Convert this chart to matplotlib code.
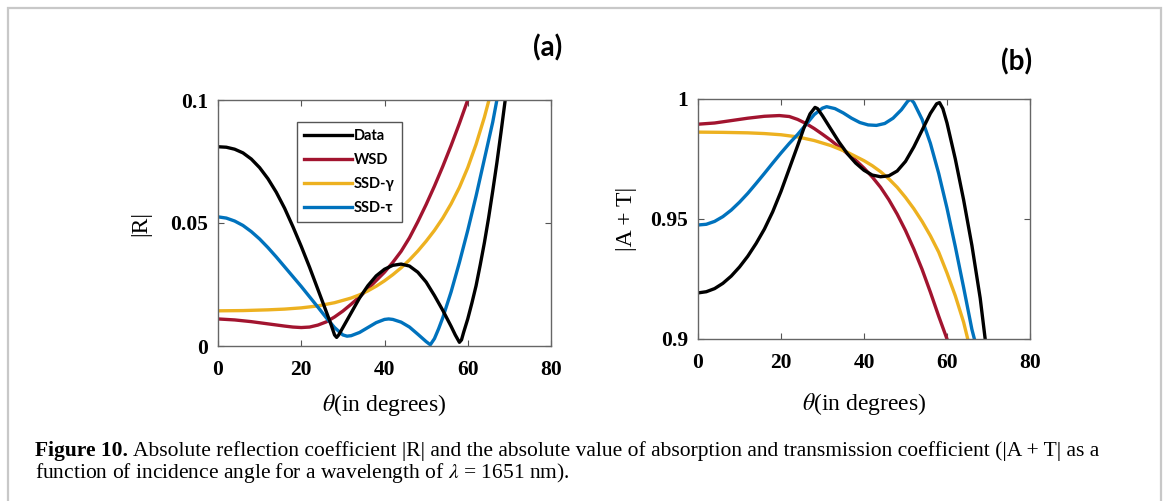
import matplotlib
matplotlib.use("Agg")
import matplotlib.pyplot as plt
from matplotlib.patches import Rectangle

plt.rcParams['mathtext.fontset'] = 'stix'

# ---------------- data: panel (a) |R| ----------------
theta_a_data = [0, 2, 4, 6, 8, 10, 12, 14, 16, 18, 20, 22, 24, 26, 27, 28, 28.5, 29, 30, 32, 34,
                36, 38, 40, 42, 44, 46, 48, 50, 52, 54, 56, 57, 58, 58.5, 59, 60, 61, 62, 63, 64,
                65, 66, 67, 68, 69]
R_data = [0.0810, 0.0808, 0.0800, 0.0785, 0.0760, 0.0725, 0.0680, 0.0625, 0.0560, 0.0485,
          0.0405, 0.0320, 0.0230, 0.0140, 0.0095, 0.0045, 0.0035, 0.0045, 0.0075, 0.0135,
          0.0195, 0.0245, 0.0285, 0.0312, 0.0328, 0.0333, 0.0325, 0.0300, 0.0260, 0.0205,
          0.0145, 0.0080, 0.0045, 0.0015, 0.0025, 0.0055, 0.0110, 0.0175, 0.0245, 0.0330,
          0.0420, 0.0520, 0.0630, 0.0745, 0.0870, 0.1]

theta_a_wsd = [0, 4, 8, 12, 16, 18, 20, 22, 24, 26, 28, 30, 32, 34, 36, 38, 40, 42, 44, 46, 48,
               50, 52, 54, 56, 58, 60]
R_wsd = [0.0110, 0.0106, 0.0099, 0.0090, 0.0081, 0.0077, 0.0075, 0.0077, 0.0085, 0.0098,
         0.0118, 0.0142, 0.0170, 0.0200, 0.0232, 0.0266, 0.0300, 0.0340, 0.0385, 0.0440,
         0.0505, 0.0575, 0.0650, 0.0730, 0.0815, 0.0905, 0.1]

theta_a_gam = [0, 6, 12, 16, 20, 24, 28, 32, 34, 36, 38, 40, 42, 44, 46, 48, 50, 52, 54, 56, 58,
               60, 62, 64, 65.1]
R_gam = [0.0143, 0.0144, 0.0147, 0.0150, 0.0155, 0.0163, 0.0176, 0.0195, 0.0208, 0.0224,
         0.0243, 0.0265, 0.0290, 0.0318, 0.0350, 0.0386, 0.0426, 0.0470, 0.0520, 0.0578,
         0.0645, 0.0725, 0.0820, 0.0930, 0.1]

theta_a_tau = [0, 2, 4, 6, 8, 10, 12, 14, 16, 18, 20, 22, 24, 26, 28, 30, 31, 32, 34, 36, 38,
               40, 41, 42, 44, 46, 48, 50, 51, 52, 53, 54, 56, 58, 60, 62, 64, 66, 67]
R_tau = [0.0525, 0.0520, 0.0508, 0.0490, 0.0465, 0.0435, 0.0400, 0.0362, 0.0322, 0.0282,
         0.0242, 0.0200, 0.0158, 0.0115, 0.0075, 0.0045, 0.0040, 0.0042, 0.0055, 0.0075,
         0.0095, 0.0108, 0.0110, 0.0108, 0.0097, 0.0077, 0.0048, 0.0018, 0.0005, 0.0030,
         0.0070, 0.0115, 0.0220, 0.0340, 0.0470, 0.0610, 0.0760, 0.0910, 0.1]

# ---------------- data: panel (b) |A + T| ----------------
theta_b_data = [0, 2, 4, 6, 8, 10, 12, 14, 16, 18, 20, 22, 24, 25.5, 27, 28.2, 28.8, 30, 32, 34,
                36, 38, 40, 42, 44, 46, 48, 50, 52, 54, 56, 57.5, 58.2, 59, 60, 62, 64, 66, 68,
                69.2]
AT_data = [0.9192, 0.9197, 0.9210, 0.9232, 0.9262, 0.9300, 0.9345, 0.9398, 0.9458, 0.9530,
           0.9615, 0.9710, 0.9805, 0.9878, 0.9938, 0.9965, 0.9960, 0.9930, 0.9875, 0.9820,
           0.9772, 0.9733, 0.9703, 0.9683, 0.9676, 0.9680, 0.9700, 0.9740, 0.9800, 0.9870,
           0.9940, 0.9980, 0.9985, 0.9960, 0.9900, 0.9750, 0.9580, 0.9390, 0.9170, 0.9]

theta_b_wsd = [0, 4, 8, 12, 16, 19.6, 22, 24, 26, 28, 30, 32, 34, 36, 38, 40, 42, 44, 46, 48,
               50, 52, 54, 56, 58, 60]
AT_wsd = [0.9895, 0.9900, 0.9910, 0.9920, 0.9928, 0.9931, 0.9927, 0.9915, 0.9898, 0.9877,
          0.9853, 0.9828, 0.9800, 0.9773, 0.9745, 0.9712, 0.9675, 0.9632, 0.9580, 0.9520,
          0.9452, 0.9375, 0.9290, 0.9195, 0.9095, 0.9]

theta_b_gam = [0, 6, 12, 16, 20, 24, 28, 32, 36, 40, 42, 44, 46, 48, 50, 52, 54, 56, 58, 60,
               62, 64, 65]
AT_gam = [0.9862, 0.9861, 0.9859, 0.9856, 0.9851, 0.9842, 0.9827, 0.9806, 0.9778, 0.9743,
          0.9722, 0.9697, 0.9667, 0.9632, 0.9590, 0.9543, 0.9490, 0.9430, 0.9362, 0.9275,
          0.9180, 0.9070, 0.9]

theta_b_tau = [0, 2, 4, 6, 8, 10, 12, 14, 16, 18, 20, 22, 24, 26, 28, 30, 31, 33, 35, 37, 39,
               41, 43, 45, 47, 49, 50.5, 51.2, 52, 54, 56, 58, 60, 62, 64, 66, 66.6]
AT_tau = [0.9475, 0.9478, 0.9490, 0.9510, 0.9537, 0.9570, 0.9607, 0.9648, 0.9690, 0.9733,
          0.9775, 0.9815, 0.9852, 0.9893, 0.9935, 0.9962, 0.9968, 0.9960, 0.9942, 0.9920,
          0.9902, 0.9892, 0.9890, 0.9898, 0.9920, 0.9955, 0.9990, 1.0, 0.9985, 0.9915,
          0.9815, 0.9690, 0.9545, 0.9385, 0.9215, 0.9040, 0.9]

labels = ["Data", "WSD", "SSD-\u03b3", "SSD-\u03c4"]
colors = ["#000000", "#A2142F", "#EDB120", "#0072BD"]
xticks = [0, 20, 40, 60, 80]

fig = plt.figure(figsize=(11.70, 5.01), dpi=100)

# outer frame
fig.patches.append(Rectangle((8 / 1170, -0.05), (1161 - 8) / 1170, 1.05 - 8 / 501,
                             transform=fig.transFigure, fill=False,
                             edgecolor="#c8c8c8", lw=1.6))

ax_a = fig.add_axes([218 / 1170, 1 - 346 / 501, 333 / 1170, 246 / 501])
ax_b = fig.add_axes([698 / 1170, 1 - 339 / 501, 332 / 1170, 240 / 501])

series_a = [(theta_a_data, R_data), (theta_a_wsd, R_wsd), (theta_a_gam, R_gam), (theta_a_tau, R_tau)]
series_b = [(theta_b_data, AT_data), (theta_b_wsd, AT_wsd), (theta_b_gam, AT_gam), (theta_b_tau, AT_tau)]

order = [1, 2, 3, 0]
legend_lines = None
for ax, series in ((ax_a, series_a), (ax_b, series_b)):
    lines = {}
    for i in order:
        th, v = series[i]
        ln, = ax.plot(th, v, color=colors[i], lw=2.4, label=labels[i],
                      solid_joinstyle='round')
        lines[i] = ln
    ax.set_xlim(0, 80)
    ax.set_xticks(xticks)
    ax.tick_params(direction='in', top=True, right=True, length=4, width=0.8, color="#555555")
    ax.tick_params(axis='x', pad=10)
    ax.tick_params(axis='y', pad=7)
    for sp in ax.spines.values():
        sp.set_color("#666666")
        sp.set_linewidth(1.0)
    if ax is ax_a:
        legend_lines = [lines[i] for i in range(4)]

ax_a.set_ylim(0, 0.1)
ax_a.set_yticks([0, 0.05, 0.1])
ax_a.set_yticklabels(["0", "0.05", "0.1"])
ax_b.set_ylim(0.9, 1.0)
ax_b.set_yticks([0.9, 0.95, 1.0])
ax_b.set_yticklabels(["0.9", "0.95", "1"])
for ax in (ax_a, ax_b):
    for lab in ax.get_xticklabels() + ax.get_yticklabels():
        lab.set_fontfamily("Liberation Serif")
        lab.set_fontweight("bold")
        lab.set_fontsize(15.5)

ax_a.set_xlabel(r"$\theta$(in degrees)", fontfamily="Liberation Serif", fontsize=17, labelpad=8.5)
ax_b.set_xlabel(r"$\theta$(in degrees)", fontfamily="Liberation Serif", fontsize=17, labelpad=13)
ax_a.set_ylabel("|R|", fontfamily="Liberation Serif", fontsize=17, labelpad=14)
ax_b.set_ylabel("|A + T|", fontfamily="Liberation Serif", fontsize=17, labelpad=10)

leg = ax_a.legend(legend_lines, labels, loc="upper left", bbox_to_anchor=(0.237, 0.91),
                  prop={"family": "Lato", "weight": "bold", "size": 10.5},
                  handlelength=3.3, handletextpad=0.1, labelspacing=0.68, borderpad=0.5,
                  fancybox=False, framealpha=1, edgecolor="#555555", borderaxespad=0)
leg.get_frame().set_linewidth(1.0)

fig.text(548 / 1170, 1 - 48 / 501, "(a)", fontfamily="Lato", fontweight="bold", fontsize=20,
         ha="center", va="center")
fig.text(1017 / 1170, 1 - 62 / 501, "(b)", fontfamily="Lato", fontweight="bold", fontsize=20,
         ha="center", va="center")

# caption
cap_size = 15.45
renderer = fig.canvas.get_renderer()
t1 = fig.text(35 / 1170, 1 - 451 / 501, "Figure 10.", fontfamily="Liberation Serif",
              fontweight="bold", fontsize=cap_size, va="center")
bb = t1.get_window_extent(renderer=renderer)
x_after = (bb.x1 + 5) / 1170
fig.text(x_after, 1 - 451 / 501,
         "Absolute reflection coefficient |R| and the absolute value of absorption and transmission coefficient (|A + T| as a",
         fontfamily="Liberation Serif", fontsize=cap_size, va="center")
fig.text(35 / 1170, 1 - 473 / 501,
         r"function of incidence angle for a wavelength of $\lambda$ = 1651 nm).",
         fontfamily="Liberation Serif", fontsize=cap_size, va="center")

fig.savefig("out.png", dpi=100)
